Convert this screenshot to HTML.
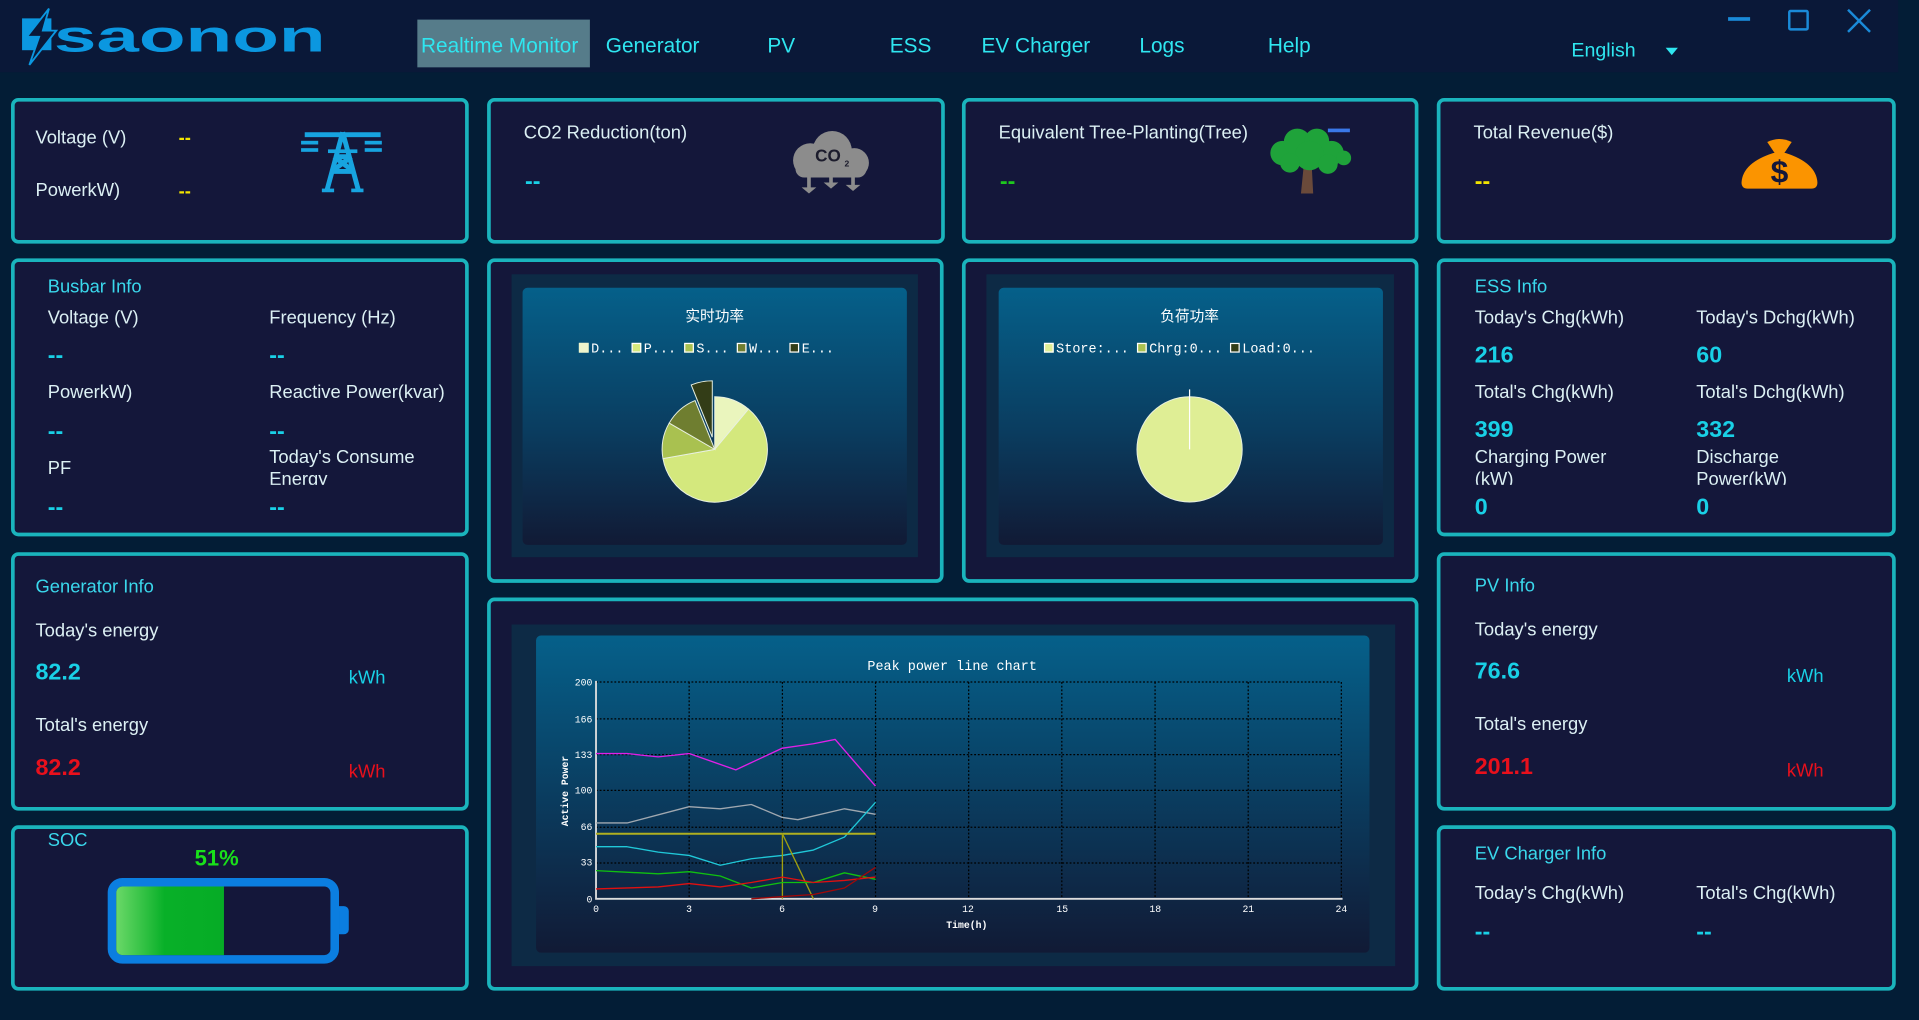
<!DOCTYPE html>
<html><head><meta charset="utf-8"><style>
html,body{margin:0;padding:0;width:1919px;height:1020px;overflow:hidden;background:#031d36;}
#f{position:absolute;left:0;top:0;width:1568px;height:833px;transform-origin:0 0;transform:scale(1.22385,1.22449);font-family:"Liberation Sans","Noto Sans CJK SC",sans-serif;color:#dcf0f4;}
.a{position:absolute;}
.p{position:absolute;background:#14173a;border:3px solid #1ab4bc;border-radius:6px;box-sizing:border-box;}
.t{position:absolute;font-size:15px;white-space:nowrap;}
.v{position:absolute;font-size:19px;font-weight:bold;color:#19d0e6;}
.y{color:#f2e400;}
.nav{position:absolute;top:28px;font-size:17px;color:#2fe6f0;}
.lg{position:absolute;top:280px;font-size:11px;color:#fff;font-family:'Liberation Mono',monospace;white-space:pre}
.sq{display:inline-block;width:6px;height:6px;border:1px solid #fff;margin-right:2px;vertical-align:0px}
</style></head><body><div id="f">
<div class="a" style="left:0;top:0;width:1551px;height:59px;background:#0a1838"></div>
<svg class="a" style="left:18px;top:5px" width="250" height="50" viewBox="0 0 250 50">
<rect x="0" y="10" width="24" height="26" fill="#0b97e0"/>
<path d="M22 2 L4 25 L14 25 L6 48 L28 20 L17 20 Z" fill="#0a1838" stroke="#0b97e0" stroke-width="1.5"/>
<text x="26" y="37" font-family="Liberation Sans" font-weight="bold" font-size="36" fill="#0b97e0" textLength="222" lengthAdjust="spacingAndGlyphs">saonon</text>
</svg>
<div class="a" style="left:341px;top:16px;width:141px;height:39px;background:#567c8a"></div>
<div class="nav" style="left:344px">Realtime Monitor</div>
<div class="nav" style="left:495px">Generator</div>
<div class="nav" style="left:627px">PV</div>
<div class="nav" style="left:727px">ESS</div>
<div class="nav" style="left:802px">EV Charger</div>
<div class="nav" style="left:931px">Logs</div>
<div class="nav" style="left:1036px">Help</div>
<div class="a" style="left:1284px;top:33px;font-size:16px;color:#2fe6f0">English</div>
<div class="a" style="left:1361px;top:39px;border-left:5px solid transparent;border-right:5px solid transparent;border-top:6px solid #2fe6f0"></div>
<div class="a" style="left:1412px;top:14px;width:18px;height:3px;background:#1a8ad8"></div>
<div class="a" style="left:1461px;top:8px;width:17px;height:17px;border:2px solid #1a8ad8;border-radius:2px;box-sizing:border-box"></div>
<svg class="a" style="left:1509px;top:7px" width="20" height="20"><path d="M1 1L19 19M19 1L1 19" stroke="#1a8ad8" stroke-width="2"/></svg>

<div class="p" style="left:9px;top:80px;width:374px;height:119px"></div>
<div class="t" style="left:29px;top:104px">Voltage (V)</div>
<div class="t y" style="left:146px;top:104px;font-weight:bold">--</div>
<div class="t" style="left:29px;top:147px">PowerkW)</div>
<div class="t y" style="left:146px;top:148px;font-weight:bold">--</div>
<svg class="a" style="left:245px;top:106px" width="68" height="52" viewBox="0 0 68 52"><g fill="#17a4e0" stroke="#17a4e0"><rect x="4" y="2" width="62" height="4" stroke="none"/><path d="M35 2 L22 50 M35 2 L48 50 M26 34 L44 34 M28 22 L42 22 M28 22 L44 34 M42 22 L26 34" stroke-width="4" fill="none"/><rect x="1" y="9" width="14" height="3" stroke="none"/><rect x="1" y="15" width="14" height="3" stroke="none"/><rect x="53" y="9" width="14" height="3" stroke="none"/><rect x="53" y="15" width="14" height="3" stroke="none"/><rect x="18" y="48" width="10" height="3" stroke="none"/><rect x="42" y="48" width="10" height="3" stroke="none"/><rect x="23" y="16" width="24" height="3" stroke="none"/></g></svg>

<div class="p" style="left:398px;top:80px;width:374px;height:119px"></div>
<div class="t" style="left:428px;top:100px">CO2 Reduction(ton)</div>
<div class="v" style="left:429px;top:138px">--</div>
<svg class="a" style="left:640px;top:105px" width="76" height="55"><g fill="#8c8c8c"><circle cx="22" cy="26" r="14"/><circle cx="40" cy="18" r="16"/><circle cx="58" cy="28" r="12"/><rect x="10" y="26" width="58" height="14" rx="7"/></g><text x="26" y="27" font-size="14" font-weight="bold" fill="#1c1c2c" font-family="Liberation Sans">CO</text><text x="50" y="31" font-size="7" font-weight="bold" fill="#1c1c2c">2</text><g stroke="#8c8c8c" stroke-width="3" fill="#8c8c8c"><path d="M21 36V50M39 36V46M57 36V48"/></g><path d="M15 48L21 53L27 48ZM33 44L39 49L45 44ZM51 46L57 51L63 46Z" fill="#8c8c8c"/></svg>

<div class="p" style="left:786px;top:80px;width:373px;height:119px"></div>
<div class="t" style="left:816px;top:100px">Equivalent Tree-Planting(Tree)</div>
<div class="v" style="left:817px;top:138px;color:#1ec81e">--</div>
<svg class="a" style="left:1030px;top:103px" width="78" height="56"><rect x="55" y="2" width="18" height="3" fill="#3a78e8"/><path d="M33 55L35 35L28 28L36 30L38 20L42 30L50 27L42 36L43 55Z" fill="#6a4a3a"/><g fill="#1fa33a"><circle cx="18" cy="22" r="10"/><circle cx="30" cy="13" r="11"/><circle cx="46" cy="12" r="10"/><circle cx="58" cy="22" r="10"/><circle cx="40" cy="24" r="12"/><circle cx="24" cy="30" r="8"/><circle cx="55" cy="31" r="8"/><circle cx="68" cy="26" r="6"/></g></svg>

<div class="p" style="left:1174px;top:80px;width:375px;height:119px"></div>
<div class="t" style="left:1204px;top:100px">Total Revenue($)</div>
<div class="v y" style="left:1205px;top:138px">--</div>
<svg class="a" style="left:1422px;top:113px" width="64" height="42"><path d="M22 3 Q32 -2 42 3 L36 12 L28 12 Z" fill="#fb9400"/><path d="M27 12 L37 12 Q62 20 63 36 Q63 41 58 41 L6 41 Q1 41 1 36 Q2 20 27 12Z" fill="#fb9400"/><text x="32" y="36" text-anchor="middle" font-size="26" font-weight="bold" fill="#14173a" font-family="Liberation Sans">$</text></svg>

<div class="p" style="left:9px;top:211px;width:374px;height:227px"></div>
<div class="t" style="left:39px;top:226px;color:#3ad8ec">Busbar Info</div>
<div class="t" style="left:39px;top:251px">Voltage (V)</div>
<div class="t" style="left:220px;top:251px">Frequency (Hz)</div>
<div class="v" style="left:39px;top:280px">--</div>
<div class="v" style="left:220px;top:280px">--</div>
<div class="t" style="left:39px;top:312px">PowerkW)</div>
<div class="t" style="left:220px;top:312px">Reactive Power(kvar)</div>
<div class="v" style="left:39px;top:342px">--</div>
<div class="v" style="left:220px;top:342px">--</div>
<div class="t" style="left:39px;top:374px">PF</div>
<div class="t" style="left:220px;top:365px;line-height:18px;height:31px;overflow:hidden">Today's Consume<br>Energy</div>
<div class="v" style="left:39px;top:404px">--</div>
<div class="v" style="left:220px;top:404px">--</div>

<div class="p" style="left:398px;top:211px;width:373px;height:265px"></div>
<div class="a" style="left:418px;top:224px;width:332px;height:231px;background:#0d2a45"></div>
<div class="a" style="left:427px;top:235px;width:314px;height:210px;border-radius:4px;background:linear-gradient(#05608a,#0a3d60 55%,#111a35)"></div>
<div class="t" style="left:560px;top:249px;font-size:12px;color:#fff">实时功率</div>
<div class="lg" style="left:473px"><span class="sq" style="background:#eef5cc;border-color:#eef5cc"></span>D... <span class="sq" style="background:#d4e87d"></span>P... <span class="sq" style="background:#a9c150"></span>S... <span class="sq" style="background:#6f7e30"></span>W... <span class="sq" style="background:#333d17"></span>E...</div>
<svg class="a" style="left:0;top:0" width="1568" height="833">
<g stroke="#e8f0e0" stroke-width="0.8">
<path d="M584 367L584 324A43 43 0 0 1 611.6 334.1Z" fill="#eaf5bd"/>
<path d="M584 367L611.6 334.1A43 43 0 1 1 541.7 374.5Z" fill="#d4e87d"/>
<path d="M584 367L541.7 374.5A43 43 0 0 1 546.8 345.5Z" fill="#a9c150"/>
<path d="M584 367L546.8 345.5A43 43 0 0 1 567.9 327.1Z" fill="#6f7e30"/>
<path d="M582 357L564.8 314.4A46 46 0 0 1 582 311Z" fill="#333d17"/>
</g>
</svg>

<div class="p" style="left:786px;top:211px;width:373px;height:265px"></div>
<div class="a" style="left:806px;top:224px;width:333px;height:231px;background:#0d2a45"></div>
<div class="a" style="left:816px;top:235px;width:314px;height:210px;border-radius:4px;background:linear-gradient(#05608a,#0a3d60 55%,#111a35)"></div>
<div class="t" style="left:948px;top:249px;font-size:12px;color:#fff">负荷功率</div>
<div class="lg" style="left:853px"><span class="sq" style="background:#dfee95"></span>Store:... <span class="sq" style="background:#a9c150"></span>Chrg:0... <span class="sq" style="background:#333d17"></span>Load:0...</div>
<svg class="a" style="left:0;top:0" width="1568" height="833"><circle cx="972" cy="367" r="43" fill="#dfee95" stroke="#e8f0e0" stroke-width="0.8"/><path d="M972 367V318" stroke="#fff" stroke-width="1"/></svg>

<div class="p" style="left:1174px;top:211px;width:375px;height:227px"></div>
<div class="t" style="left:1205px;top:226px;color:#3ad8ec">ESS Info</div>
<div class="t" style="left:1205px;top:251px">Today's Chg(kWh)</div>
<div class="t" style="left:1386px;top:251px">Today's Dchg(kWh)</div>
<div class="v" style="left:1205px;top:280px">216</div>
<div class="v" style="left:1386px;top:280px">60</div>
<div class="t" style="left:1205px;top:312px">Total's Chg(kWh)</div>
<div class="t" style="left:1386px;top:312px">Total's Dchg(kWh)</div>
<div class="v" style="left:1205px;top:341px">399</div>
<div class="v" style="left:1386px;top:341px">332</div>
<div class="t" style="left:1205px;top:365px;line-height:18px;height:31px;overflow:hidden">Charging Power<br>(kW)</div>
<div class="t" style="left:1386px;top:365px;line-height:18px;height:31px;overflow:hidden">Discharge<br>Power(kW)</div>
<div class="v" style="left:1205px;top:404px">0</div>
<div class="v" style="left:1386px;top:404px">0</div>

<div class="p" style="left:9px;top:451px;width:374px;height:211px"></div>
<div class="t" style="left:29px;top:471px;color:#3ad8ec">Generator Info</div>
<div class="t" style="left:29px;top:507px">Today's energy</div>
<div class="v" style="left:29px;top:539px">82.2</div>
<div class="t" style="left:285px;top:545px;color:#19d0e6">kWh</div>
<div class="t" style="left:29px;top:584px">Total's energy</div>
<div class="v" style="left:29px;top:617px;color:#e8101c">82.2</div>
<div class="t" style="left:285px;top:622px;color:#e8101c">kWh</div>

<div class="p" style="left:9px;top:674px;width:374px;height:135px"></div>
<div class="t" style="left:39px;top:678px;color:#3ad8ec">SOC</div>
<div class="a" style="left:159px;top:691px;font-size:18px;font-weight:bold;color:#19e01a">51%</div>
<div class="a" style="left:88px;top:717px;width:189px;height:70px;border:7px solid #0b7ee0;border-radius:12px;box-sizing:border-box"></div>
<div class="a" style="left:277px;top:740px;width:8px;height:23px;background:#0b7ee0;border-radius:0 4px 4px 0"></div>
<div class="a" style="left:95px;top:724px;width:88px;height:56px;border-radius:5px 0 0 5px;background:linear-gradient(90deg,#6ad868,#08b028 45%,#06ac26)"></div>

<div class="p" style="left:398px;top:488px;width:761px;height:321px"></div>
<div class="a" style="left:418px;top:510px;width:722px;height:279px;background:#0d2a45"></div>
<div class="a" style="left:438px;top:519px;width:681px;height:259px;border-radius:4px;background:linear-gradient(#05608a,#0a3d60 50%,#111a35)"></div>
<svg class="a" style="left:0;top:0" width="1568" height="833" font-family="Liberation Mono" fill="#fff">
<text x="778" y="547" text-anchor="middle" font-size="11">Peak power line chart</text>
<g stroke="#000" stroke-width="1" stroke-dasharray="1.5 1.5" fill="none">
<path d="M487 557H1096M487 587.1H1096M487 616.3H1096M487 645.5H1096M487 675.6H1096M487 704.8H1096"/>
<path d="M563.1 557V734M639.3 557V734M715.4 557V734M791.5 557V734M867.6 557V734M943.8 557V734M1019.9 557V734M1096 557V734"/>
</g>
<path d="M487 556V734H1097" stroke="#ddd" stroke-width="1.5" fill="none"/>
<g font-size="8" text-anchor="end"><text x="484" y="560">200</text><text x="484" y="590">166</text><text x="484" y="619">133</text><text x="484" y="648">100</text><text x="484" y="678">66</text><text x="484" y="707">33</text><text x="484" y="737">0</text></g>
<g font-size="8" text-anchor="middle"><text x="487" y="745">0</text><text x="563" y="745">3</text><text x="639" y="745">6</text><text x="715" y="745">9</text><text x="791" y="745">12</text><text x="868" y="745">15</text><text x="944" y="745">18</text><text x="1020" y="745">21</text><text x="1096" y="745">24</text></g>
<text x="790" y="758" font-size="8" font-weight="bold" text-anchor="middle">Time(h)</text>
<text transform="translate(464,646) rotate(-90)" font-size="8" font-weight="bold" text-anchor="middle">Active Power</text>
<g fill="none" stroke-width="1.1" stroke-linejoin="round">
<polyline stroke="#e020e8" points="487,615.4 512.4,615.4 537.8,618.1 563.1,615.4 601.2,628.7 639.3,611 664.6,607.4 682.4,603.9 715.4,642"/>
<polyline stroke="#a0a8b0" points="487,672.1 512.4,672.1 563.1,658.8 588.5,660.5 613.9,657 639.3,667.6 651.9,669.4 690,660.5 715.4,665"/>
<polyline stroke="#20c8d8" points="487,691.5 512.4,691.5 537.8,695.9 563.1,698.6 588.5,706.6 613.9,701.3 639.3,698.6 664.6,694.2 690,683.6 715.4,655.2"/>
<polyline stroke="#b0b020" stroke-width="1.6" points="487,680.9 715.4,680.9"/>
<polyline stroke="#a0a010" points="639.3,734 639.3,680.9 664.6,734"/>
<polyline stroke="#10c010" points="487,711 537.8,713.6 563.1,711.9 588.5,715.4 613.9,725.2 639.3,720.7 664.6,720.7 690,712.8 715.4,718.1"/>
<polyline stroke="#e01010" points="487,726 537.8,724.3 563.1,721.6 588.5,724.3 613.9,720.7 639.3,716.3 664.6,720.7 690,719 715.4,716.3"/>
<polyline stroke="#a00808" points="613.9,734 639.3,732.2 664.6,730.5 690,725.2 715.4,708.3"/>
</g>
</svg>

<div class="p" style="left:1174px;top:451px;width:375px;height:211px"></div>
<div class="t" style="left:1205px;top:470px;color:#3ad8ec">PV Info</div>
<div class="t" style="left:1205px;top:506px">Today's energy</div>
<div class="v" style="left:1205px;top:538px">76.6</div>
<div class="t" style="left:1460px;top:544px;color:#19d0e6">kWh</div>
<div class="t" style="left:1205px;top:583px">Total's energy</div>
<div class="v" style="left:1205px;top:616px;color:#e8101c">201.1</div>
<div class="t" style="left:1460px;top:621px;color:#e8101c">kWh</div>

<div class="p" style="left:1174px;top:674px;width:375px;height:135px"></div>
<div class="t" style="left:1205px;top:689px;color:#3ad8ec">EV Charger Info</div>
<div class="t" style="left:1205px;top:721px">Today's Chg(kWh)</div>
<div class="t" style="left:1386px;top:721px">Total's Chg(kWh)</div>
<div class="v" style="left:1205px;top:751px">--</div>
<div class="v" style="left:1386px;top:751px">--</div>
</div></body></html>
